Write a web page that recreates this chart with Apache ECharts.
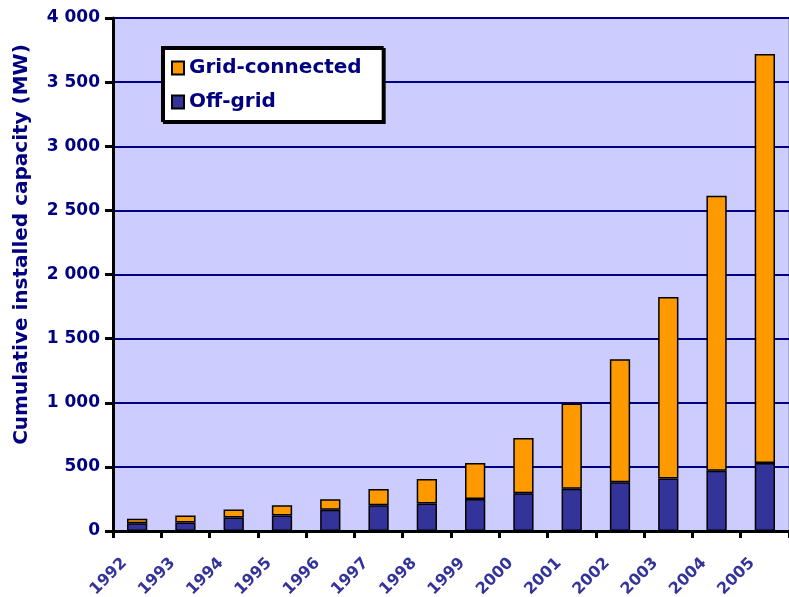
<!DOCTYPE html>
<html>
<head>
<meta charset="utf-8">
<script src="https://cdn.jsdelivr.net/npm/echarts@6/dist/echarts.min.js"></script>
<style>
    html, body { margin: 0; padding: 0; background: #fff; }
    #chartarea { width: 789px; height: 597px; }
</style>
</head>
<body>
<div id="chartarea"></div>
<script>
//年份
var years = ['1992', '1993', '1994', '1995', '1996', '1997', '1998', '1999', '2000', '2001', '2002', '2003', '2004', '2005'];
//离网 (MW)
var offGrid = [60, 67, 105, 120, 165, 200, 215, 250, 295, 330, 380, 410, 470, 530];
//并网 (MW)
var gridConnected = [35, 53, 63, 80, 83, 128, 190, 280, 430, 665, 960, 1415, 2145, 3190];
//纵轴刻度
var yTicks = [0, 500, 1000, 1500, 2000, 2500, 3000, 3500, 4000];

var navy = '#000080';
var font = 'DejaVu Sans';

var chart = echarts.init(document.getElementById('chartarea'));

chart.setOption({
    animation: false,
    backgroundColor: '#fff',
    grid: {
        left: 113,
        right: 0,
        top: 18,
        bottom: 66,
        outerBoundsMode: 'none', //不自动收缩绘图区
        show: true,
        backgroundColor: '#ccccff',
        borderColor: '#888',
        borderWidth: 1
    },
    legend: {
        orient: 'vertical',
        left: 162,
        top: 47,
        data: ['Grid-connected', 'Off-grid'],
        icon: 'rect',
        backgroundColor: '#fff',
        borderColor: '#000',
        borderWidth: 2,
        shadowColor: '#000',
        shadowOffsetX: 2,
        shadowOffsetY: 2,
        shadowBlur: 0,
        padding: [11, 21, 9, 9],
        itemGap: 14,
        itemWidth: 12,
        itemHeight: 13,
        textStyle: {
            color: navy,
            fontFamily: font,
            fontWeight: 'bold',
            fontSize: 20
        }
    },
    xAxis: {
        type: 'category',
        data: years,
        axisLine: { lineStyle: { color: '#000', width: 3 } },
        axisTick: { show: true, length: 7, lineStyle: { color: '#000', width: 3 } },
        axisLabel: {
            rotate: 45,
            margin: 17,
            padding: [0, 18, 0, 0],
            color: '#33339a',
            fontFamily: font,
            fontWeight: 'bold',
            fontSize: 16,
            textShadowColor: '#b8b8ee',
            textShadowOffsetX: 2,
            textShadowOffsetY: -2,
            textShadowBlur: 0
        }
    },
    yAxis: {
        type: 'value',
        min: yTicks[0],
        max: yTicks[yTicks.length - 1],
        interval: 500,
        name: 'Cumulative installed capacity (MW)',
        nameLocation: 'middle',
        nameGap: 81,
        nameRotate: 90,
        nameTextStyle: {
            color: navy,
            fontFamily: font,
            fontWeight: 'bold',
            fontSize: 20,
            padding: [0, 0, 0, 60]
        },
        axisLine: { show: true, lineStyle: { color: '#000', width: 3 } },
        axisTick: { show: true, length: 8, lineStyle: { color: '#000', width: 3 } },
        splitLine: { lineStyle: { color: navy, width: 2 } },
        axisLabel: {
            margin: 13,
            color: navy,
            fontFamily: font,
            fontWeight: 'bold',
            fontSize: 17,
            formatter: function(v) {
                return String(v).replace(/\B(?=(\d{3})+(?!\d))/g, ' ');
            }
        }
    },
    series: [{
        name: 'Off-grid',
        type: 'bar',
        stack: 'total',
        barWidth: '42%',
        data: offGrid,
        itemStyle: { color: '#333399', borderColor: '#000', borderWidth: 1.5 }
    }, {
        name: 'Grid-connected',
        type: 'bar',
        stack: 'total',
        barWidth: '42%',
        data: gridConnected,
        itemStyle: { color: '#ff9900', borderColor: '#000', borderWidth: 1.5 }
    }]
});
</script>
</body>
</html>
